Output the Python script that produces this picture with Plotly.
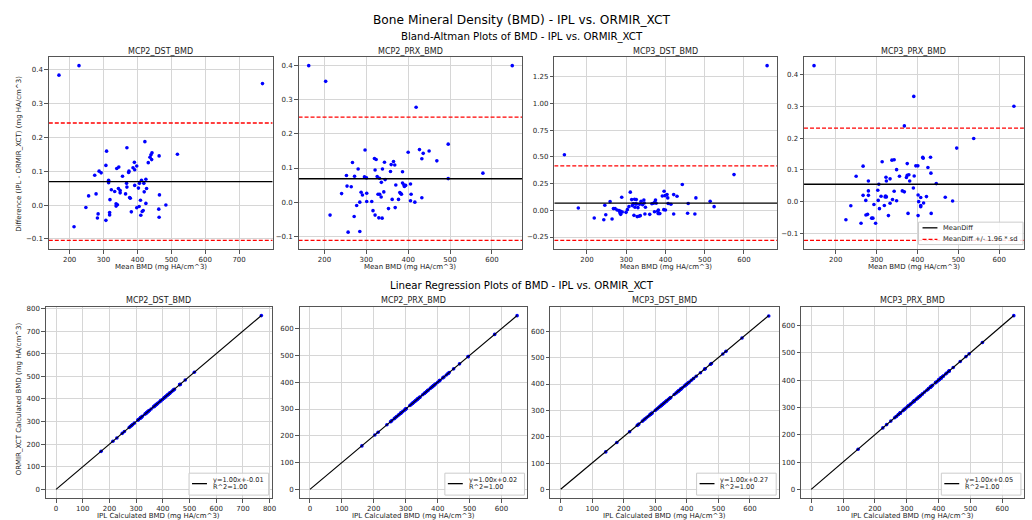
import plotly.graph_objects as go

FONT = "DejaVu Sans"

panels = ["MCP2_DST_BMD", "MCP2_PRX_BMD", "MCP3_DST_BMD", "MCP3_PRX_BMD"]

# ---- Bland-Altman data: mean BMD and difference (IPL - ORMIR_XCT) ----
mcp2_dst_mean = [168.5, 227.6, 769, 213, 248, 256, 274, 278, 284, 282, 287, 293, 307, 307, 309, 315, 315, 318, 318, 319,
                 323, 333, 337, 337, 341, 339, 345, 344, 349, 349, 356, 365, 368, 369, 369, 374, 377, 375, 379, 382,
                 387, 391, 392, 392, 398, 398, 403, 405, 406, 409, 410, 412, 414, 417, 419, 420, 422, 425, 425, 427,
                 432, 437, 440, 443, 442, 464, 465, 463, 464, 484, 518]
mcp2_dst_diff = [0.383, 0.411, 0.358, -0.064, -0.007, 0.027, 0.088, 0.033, -0.026, -0.038, 0.100, 0.095, -0.045, 0.117, 0.159, 0.073, 0.066, -0.022, -0.029, 0.016,
                 0.045, 0.040, 0.004, -0.003, 0.001, 0.108, 0.112, 0.049, 0.043, 0.036, 0.085, 0.033, 0.064, 0.053, 0.169, 0.096, 0.022, 0.100, 0.020, -0.020,
                 0.110, 0.126, 0.104, 0.058, 0.115, -0.008, 0.050, -0.004, 0.064, 0.014, -0.030, 0.073, -0.019, -0.016, 0.064, 0.039, 0.187, 0.076, 0.005, 0.049,
                 0.125, 0.141, 0.148, 0.154, 0.134, 0.145, 0.030, -0.012, -0.036, 0.000, 0.150]

mcp2_prx_mean = [162.5, 648.6, 203, 419, 213.5, 241, 252.6, 254, 256.6, 264, 267, 272, 271, 277, 280.5, 284.5, 284.5, 287.6, 290.8, 297,
                 295.6, 300.4, 301, 301, 313, 316, 319.5, 321, 321, 323.5, 326, 328, 329.9, 331.5, 332, 335.5, 337.8, 336, 338.6, 341.8,
                 343.4, 345, 353, 357.8, 359.4, 361.8, 365, 368, 369, 370.5, 376.9, 380, 382.5, 384, 386.5, 386.5, 389.6, 391, 394, 400,
                 405.6, 407, 405.6, 416, 427, 432.7, 435.9, 432.7, 450, 468.5, 495.6, 495.6, 578.5]
mcp2_prx_diff = [0.400, 0.400, 0.354, 0.278, -0.038, 0.025, 0.078, 0.047, -0.088, 0.045, 0.116, 0.076, -0.042, -0.010, 0.097, 0.000, -0.086, 0.029, 0.021, 0.153,
                 0.074, 0.071, 0.026, 0.002, 0.002, -0.025, 0.128, 0.094, -0.038, 0.125, 0.075, 0.023, -0.046, 0.070, 0.023, 0.015, -0.047, 0.058, 0.097, 0.030,
                 0.117, 0.066, -0.019, 0.090, 0.110, 0.008, 0.119, 0.109, -0.016, 0.050, 0.008, 0.028, 0.025, 0.023, 0.089, 0.056, 0.051, 0.046, 0.049, 0.146,
                 0.053, 0.023, 0.004, 0.000, 0.154, 0.127, 0.143, 0.013, 0.150, 0.121, 0.170, 0.069, 0.085]

mcp3_dst_mean = [142.6, 659, 178, 218.6, 243, 245.6, 248, 259, 264, 267.5, 271.7, 276.8, 281.9, 284, 286, 288.6, 286, 290, 299.6, 303,
                 307, 310.5, 314, 315.6, 318, 319.8, 321.5, 322.4, 324, 325.7, 326.6, 328, 330, 332.5, 334, 335.9, 338, 341.8, 345, 346,
                 347.7, 349, 360, 365.4, 369.6, 372, 373, 374.7, 376.4, 380, 381.4, 382, 385.7, 392, 395.8, 396.6, 399, 400, 404, 405.9,
                 406.8, 414, 421, 421, 429.5, 443, 456.5, 458, 475, 477.6, 514, 524, 574.7]
mcp3_dst_diff = [0.519, 1.353, 0.022, -0.072, -0.088, 0.047, -0.041, 0.081, -0.081, 0.016, 0.016, 0.003, -0.003, -0.022, -0.038, 0.122, -0.009, -0.016, -0.019, 0.006,
                 0.034, 0.170, 0.100, 0.044, 0.062, -0.047, 0.103, 0.028, 0.060, 0.100, 0.059, -0.059, 0.025, -0.056, 0.056, -0.050, 0.084, 0.053, 0.097, 0.069,
                 -0.034, 0.028, -0.038, 0.062, 0.066, -0.013, 0.078, 0.097, 0.066, -0.009, -0.031, 0.003, -0.031, 0.134, 0.006, 0.178, 0.137, 0.003, 0.147, 0.116,
                 0.063, 0.056, -0.034, 0.147, 0.131, 0.241, -0.028, 0.063, -0.034, 0.116, 0.084, 0.034, 0.334]

mcp3_prx_mean = [147, 391, 636, 537.6, 496, 368, 225, 237, 250, 262, 267, 267, 273.6, 274, 278, 280, 280, 280, 288, 291,
                 293.6, 297.6, 303, 305.6, 304, 307, 311, 313.6, 319, 321, 322, 323, 324, 324, 329, 333, 333, 337.6, 339, 343,
                 343, 349, 349, 356, 363, 368, 373, 375, 375, 377, 379, 381, 390, 392, 396, 401, 401.6, 401.6, 403, 408,
                 408, 408, 413, 414, 415, 422, 425.6, 432, 433, 433.6, 446, 468, 486]
mcp3_prx_diff = [0.429, 0.332, 0.301, 0.199, 0.169, 0.239, -0.057, -0.013, 0.080, -0.068, 0.112, 0.020, 0.004, -0.042, -0.040, 0.065, 0.034, 0.020, -0.052, -0.052,
                 -0.009, -0.068, 0.036, 0.055, 0.004, -0.022, 0.017, 0.126, -0.012, 0.015, 0.018, 0.077, 0.065, 0.015, -0.044, 0.072, -0.005, 0.131, 0.007, 0.132,
                 0.033, 0.101, 0.003, 0.080, 0.034, 0.031, 0.076, 0.120, 0.083, -0.037, 0.085, 0.065, 0.043, 0.081, 0.113, 0.113, 0.021, -0.044, 0.000, 0.013,
                 -0.012, -0.016, 0.140, 0.137, -0.004, 0.016, 0.108, 0.140, 0.090, -0.037, 0.057, 0.014, 0.002]

ba_means = [mcp2_dst_mean, mcp2_prx_mean, mcp3_dst_mean, mcp3_prx_mean]
ba_diffs = [mcp2_dst_diff, mcp2_prx_diff, mcp3_dst_diff, mcp3_prx_diff]

mean_diff = [0.069, 0.0685, 0.0675, 0.055]
upper_loa = [0.242, 0.249, 0.416, 0.232]
lower_loa = [-0.104, -0.112, -0.281, -0.122]

# ---- Linear regression summary (from legend) ----
reg_slope = [1.00, 1.00, 1.00, 1.00]
reg_intercept = [-0.01, 0.02, 0.27, 0.05]
reg_r2 = [1.00, 1.00, 1.00, 1.00]

ba_legend_labels = ["MeanDiff", "MeanDiff +/- 1.96 * sd"]

# ---- Styling / layout ----
W, H = 1032, 520
ba_xdom = [[0.0475, 0.2655], [0.2907, 0.5087], [0.5397, 0.7568], [0.7829, 0.997]]
lr_xdom = [[0.0446, 0.2645], [0.2917, 0.5136], [0.5358, 0.7587], [0.780, 0.997]]
ba_ydom = [0.523, 0.894]
lr_ydom = [0.0423, 0.4115]
TXT = "#1a1a1a"


def px(x):
    return x / W


def py(y):
    return 1 - y / H


def mpl_range(lo, hi):
    pad = (hi - lo) * 0.05
    return [lo - pad, hi + pad]


def axis_style(**kw):
    d = dict(showgrid=True, gridcolor="#d6d6d6", gridwidth=1, zeroline=False,
             showline=True, mirror=True, linecolor="#555555", linewidth=1,
             ticks="outside", ticklen=3.5, tickwidth=1, tickcolor="#555555",
             tickfont=dict(family=FONT, size=7, color="#262626"))
    d.update(kw)
    return d


def ann(text, x, y, size, color=TXT, **kw):
    d = dict(text=text, x=x, y=y, xref="paper", yref="paper", showarrow=False,
             xanchor="center", yanchor="middle", font=dict(family=FONT, size=size, color=color))
    d.update(kw)
    return d


fig = go.Figure()
layout = dict(width=W, height=H, margin=dict(l=0, r=0, t=0, b=0),
              paper_bgcolor="white", plot_bgcolor="white", showlegend=False,
              font=dict(family=FONT, color="#262626"))
annotations = []
shapes = []

for i in range(4):
    n = i + 1
    xa, ya = (f"x{n}", f"y{n}") if n > 1 else ("x", "y")
    m, d = ba_means[i], ba_diffs[i]
    xr = mpl_range(min(m), max(m))
    yr = mpl_range(min(min(d), lower_loa[i]), max(max(d), upper_loa[i]))
    fig.add_trace(go.Scatter(x=m, y=d, mode="markers", xaxis=xa, yaxis=ya,
                             marker=dict(color="#0000ff", size=3.6, line=dict(width=0))))
    fig.add_trace(go.Scatter(x=xr, y=[mean_diff[i]] * 2, mode="lines", xaxis=xa, yaxis=ya,
                             name=ba_legend_labels[0], line=dict(color="black", width=1.3)))
    fig.add_trace(go.Scatter(x=xr, y=[upper_loa[i]] * 2, mode="lines", xaxis=xa, yaxis=ya,
                             name=ba_legend_labels[1], line=dict(color="#ff0000", width=1.3, dash="4px,2px")))
    fig.add_trace(go.Scatter(x=xr, y=[lower_loa[i]] * 2, mode="lines", xaxis=xa, yaxis=ya,
                             line=dict(color="#ff0000", width=1.3, dash="4px,2px")))
    big = max(abs(v) for v in d) > 1
    sfx = str(n) if n > 1 else ""
    layout["xaxis" + sfx] = axis_style(domain=ba_xdom[i], anchor=ya, range=xr, tick0=0, dtick=100)
    layout["yaxis" + sfx] = axis_style(domain=ba_ydom, anchor=xa, range=yr, tick0=0,
                                       dtick=0.25 if big else 0.1, tickformat=".2f" if big else ".1f")
    cx = (ba_xdom[i][0] + ba_xdom[i][1]) / 2
    annotations.append(ann(panels[i], cx, py(50), 8.0))
    annotations.append(ann("Mean BMD (mg HA/cm^3)", cx, py(266.5), 7))

for i in range(4):
    n = i + 5
    xa, ya = f"x{n}", f"y{n}"
    m, d = ba_means[i], ba_diffs[i]
    ipl = [mv + dv / 2 for mv, dv in zip(m, d)]
    ormir = [mv - dv / 2 for mv, dv in zip(m, d)]
    line_x = [0, max(ipl)]
    line_y = [reg_intercept[i] + reg_slope[i] * v for v in line_x]
    xr = mpl_range(min(0, min(ipl)), max(ipl))
    yr = mpl_range(min(0, min(ormir), line_y[0]), max(max(ormir), line_y[1]))
    fig.add_trace(go.Scatter(x=ipl, y=ormir, mode="markers", xaxis=xa, yaxis=ya,
                             marker=dict(color="#0000ff", size=3.6, line=dict(width=0))))
    fig.add_trace(go.Scatter(x=line_x, y=line_y, mode="lines", xaxis=xa, yaxis=ya,
                             line=dict(color="black", width=1.2)))
    layout[f"xaxis{n}"] = axis_style(domain=lr_xdom[i], anchor=ya, range=xr, tick0=0, dtick=100)
    layout[f"yaxis{n}"] = axis_style(domain=lr_ydom, anchor=xa, range=yr, tick0=0, dtick=100)
    cx = (lr_xdom[i][0] + lr_xdom[i][1]) / 2
    annotations.append(ann(panels[i], cx, py(299.5), 8.0))
    annotations.append(ann("IPL Calculated BMD (mg HA/cm^3)", cx, py(515.5), 7))

    # regression legend box (bottom-right of panel)
    R = lr_xdom[i][1] * W - 3
    shapes.append(dict(type="rect", xref="paper", yref="paper", x0=px(R - 80), x1=px(R),
                       y0=py(495), y1=py(473), fillcolor="rgba(255,255,255,0.85)",
                       line=dict(color="#cccccc", width=1)))
    shapes.append(dict(type="line", xref="paper", yref="paper", x0=px(R - 77), x1=px(R - 62),
                       y0=py(483.5), y1=py(483.5), line=dict(color="black", width=1.3)))
    annotations.append(ann(f"y={reg_slope[i]:.2f}x+{reg_intercept[i]:.2f}", px(R - 58), py(479.8), 6.6,
                           xanchor="left"))
    annotations.append(ann(f"R^2={reg_r2[i]:.2f}", px(R - 58), py(487.3), 6.6, xanchor="left"))

# Bland-Altman legend (MCP3_PRX panel)
shapes.append(dict(type="rect", xref="paper", yref="paper", x0=px(923), x1=px(1028),
                   y0=py(243.5), y1=py(221), fillcolor="rgba(255,255,255,0.85)",
                   line=dict(color="#cccccc", width=1)))
shapes.append(dict(type="line", xref="paper", yref="paper", x0=px(927), x1=px(942),
                   y0=py(226.7), y1=py(226.7), line=dict(color="black", width=1.3)))
shapes.append(dict(type="line", xref="paper", yref="paper", x0=px(927), x1=px(942),
                   y0=py(238.3), y1=py(238.3), line=dict(color="#ff0000", width=1.3, dash="4px,2px")))
annotations.append(ann(ba_legend_labels[0], px(946), py(226.7), 6.7, xanchor="left"))
annotations.append(ann(ba_legend_labels[1], px(946), py(238.3), 6.7, xanchor="left"))

# Titles and y-axis labels
annotations += [
    ann("Bone Mineral Density (BMD) - IPL vs. ORMIR_XCT", 0.508, py(18.5), 12.2, color="black"),
    ann("Bland-Altman Plots of BMD - IPL vs. ORMIR_XCT", 0.508, py(35.5), 10.2, color="black"),
    ann("Linear Regression Plots of BMD - IPL vs. ORMIR_XCT", 0.508, py(285), 10.2, color="black"),
    ann("Difference (IPL - ORMIR_XCT) (mg HA/cm^3)", px(19.5), py(152), 7, textangle=-90),
    ann("ORMIR_XCT Calculated BMD (mg HA/cm^3)", px(20), py(398), 7, textangle=-90),
]
layout["annotations"] = annotations
layout["shapes"] = shapes

fig.update_layout(**layout)
fig.write_html("out.html", config={"displayModeBar": False},
               post_script="document.body.style.margin='0px';document.body.style.padding='0px';"
                           "document.documentElement.style.overflow='hidden';")
